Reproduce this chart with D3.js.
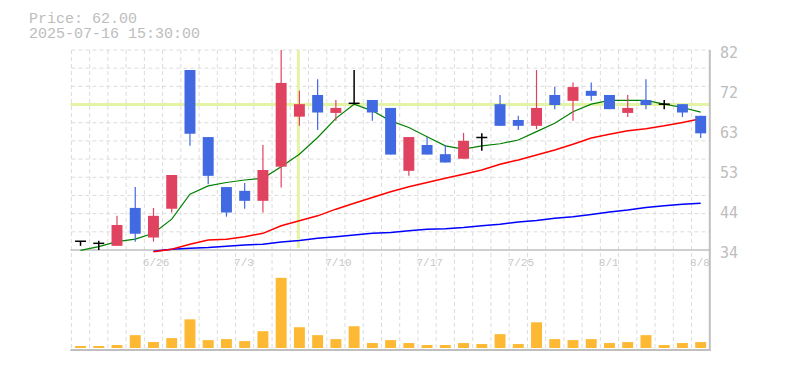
<!DOCTYPE html>
<html><head><meta charset="utf-8">
<script src="https://cdn.jsdelivr.net/npm/d3@7"></script>
<style>
html,body{margin:0;padding:0;background:#fff;}
svg{display:block;}
</style></head>
<body>
<svg id="chart" width="785" height="370"></svg>
<script>
// ---- data ----
const dates = ["6/20","6/23","6/24","6/25","6/26","6/27","6/30","7/1","7/2","7/3",
  "7/4","7/7","7/8","7/9","7/10","7/11","7/14","7/15","7/16","7/17",
  "7/18","7/22","7/23","7/24","7/25","7/28","7/29","7/30","7/31","8/1",
  "8/4","8/5","8/6","8/7","8/8"];
const opens  = [36.1,35.6,35.0,44.1,37.0,43.9,77.2,61.1,49.1,48.2,45.8,54.0,66.0,71.2,66.9,69.2,70.0,68.1,53.0,59.2,57.0,55.9,61.0,69.0,65.2,63.8,71.2,69.8,72.2,71.2,66.9,70.0,69.0,69.0,66.2];
const highs  = [36.1,36.2,42.2,49.1,44.1,52.0,77.2,61.1,49.1,50.1,59.2,82.0,72.2,75.0,70.0,77.2,70.0,68.1,61.1,61.1,59.2,62.1,62.0,71.2,66.2,77.2,73.2,74.2,74.2,71.2,71.2,75.0,70.0,69.0,66.2];
const lows   = [35.0,34.0,35.0,36.0,36.0,43.0,59.0,49.8,42.0,43.9,43.0,49.0,63.8,62.8,65.0,69.0,65.0,56.9,51.8,56.9,55.0,55.9,57.8,63.8,62.8,63.0,67.8,65.0,69.8,67.8,65.9,67.8,67.8,65.9,60.9];
const closes = [36.1,35.6,40.0,37.9,42.2,52.0,61.9,51.8,43.0,45.8,53.2,74.1,69.0,67.0,68.1,69.2,67.0,56.9,61.1,56.9,55.0,60.2,61.0,63.8,63.8,68.1,68.8,73.1,71.0,67.8,68.1,68.8,69.0,67.0,62.0];
const volumes = [200,200,300,1300,600,1000,2900,800,900,700,1700,7100,2100,1300,900,2200,500,800,500,300,300,500,400,1400,400,2600,900,800,900,500,600,1300,300,500,600];
const ma5  = [33.9,34.8,36.0,36.6,38.0,41.4,47.4,49.4,50.2,50.8,51.2,54.0,57.0,61.0,65.6,69.0,67.4,65.0,63.4,61.2,59.0,58.2,59.0,59.5,60.4,62.4,64.4,67.2,69.0,69.9,69.9,69.9,69.0,68.2,67.1];
const ma25 = [null,null,null,null,33.6,34.2,35.4,36.4,36.6,37.2,38.0,39.8,41.0,42.2,43.8,45.2,46.6,48.0,49.2,50.2,51.2,52.2,53.2,54.6,55.6,56.8,58.0,59.4,60.9,61.8,62.6,63.1,63.8,64.6,65.5];
const ma75 = [null,null,null,null,33.7,34.2,34.4,34.6,34.9,35.2,35.4,35.9,36.3,36.8,37.2,37.6,38.0,38.2,38.6,39.0,39.1,39.4,39.8,40.2,40.7,41.1,41.6,42.0,42.5,43.1,43.6,44.2,44.6,45.0,45.2];
const priceTicks = [82,72,63,53,44,34];
const xLabelIdx = [4,9,14,19,24,29,34];
const titleLines = ["Price: 62.00","2025-07-16 15:30:00"];
const crossIdx = 12, crossPrice = 68.9;

// ---- layout ----
const svg = d3.select("#chart");
const X0 = 71.4, X1 = 709.8;
const PT = 50, PB = 250, VB = 348, VT = 263;
const x = d3.scaleBand().domain(d3.range(dates.length)).range([X0, X1]).padding(0);
const step = x.step(), bw = step * 0.6;
const cx = i => x(i) + step / 2;
const y = d3.scaleLinear().domain([34, 82]).range([PB, PT]);
const yv = d3.scaleLinear().domain([0, 8600]).range([VB, VT]);

const gridC = "#dcdcdc", axisC = "#bfbfbf", textC = "#bdbdbd";
const UP = "#e0435f", DOWN = "#4169e1";

// grid
const g = svg.append("g");
g.selectAll("line.vg").data(d3.range(dates.length)).enter().append("line")
  .attr("x1", i => x(i)).attr("x2", i => x(i)).attr("y1", PT).attr("y2", VB + 1)
  .attr("stroke", gridC).attr("stroke-dasharray", "4,3").attr("stroke-width", 1);
g.selectAll("line.hg").data(d3.range(11)).enter().append("line")
  .attr("x1", X0).attr("x2", X1)
  .attr("y1", k => PT + k * (PB - PT) / 11).attr("y2", k => PT + k * (PB - PT) / 11)
  .attr("stroke", gridC).attr("stroke-dasharray", "4,3");

// crosshair
svg.append("line").attr("x1", X0 - 1).attr("x2", X1).attr("y1", y(crossPrice)).attr("y2", y(crossPrice))
  .attr("stroke", "#e4f4a6").attr("stroke-width", 3);
svg.append("line").attr("x1", cx(crossIdx) - 1).attr("x2", cx(crossIdx) - 1).attr("y1", PT).attr("y2", PB - 2)
  .attr("stroke", "#e4f4a6").attr("stroke-width", 3);

// axes lines
svg.append("line").attr("x1", X0 - 1).attr("x2", X1 + 1).attr("y1", PB).attr("y2", PB).attr("stroke", axisC).attr("stroke-width", 1.5);
svg.append("line").attr("x1", X0 - 1).attr("x2", X1 + 1).attr("y1", VB + 2).attr("y2", VB + 2).attr("stroke", axisC).attr("stroke-width", 2);
svg.append("line").attr("x1", X1).attr("x2", X1).attr("y1", PT).attr("y2", VB + 3).attr("stroke", axisC).attr("stroke-width", 2);

// MA lines
function maLine(arr, color, w) {
  const line = d3.line().defined(d => d != null).x((d, i) => cx(i)).y(d => y(d));
  svg.append("path").attr("d", line(arr)).attr("fill", "none").attr("stroke", color).attr("stroke-width", w);
}
maLine(ma75, "#0000ff", 1.5);
maLine(ma25, "#ff0000", 1.5);
maLine(ma5, "#008000", 1.2);

// candles
const idx = d3.range(dates.length);
const cg = svg.append("g");
idx.forEach(i => {
  const o = opens[i], c = closes[i], h = highs[i], l = lows[i];
  if (o === c) {
    cg.append("line").attr("x1", cx(i)).attr("x2", cx(i)).attr("y1", y(h)).attr("y2", y(l)).attr("stroke", "#000").attr("stroke-width", 1.5);
    cg.append("line").attr("x1", cx(i) - bw / 2).attr("x2", cx(i) + bw / 2).attr("y1", y(o)).attr("y2", y(o)).attr("stroke", "#000").attr("stroke-width", 1.5);
  } else {
    const col = c > o ? UP : DOWN;
    cg.append("line").attr("x1", cx(i)).attr("x2", cx(i)).attr("y1", y(h)).attr("y2", y(l)).attr("stroke", col).attr("stroke-width", 1.2);
    cg.append("rect").attr("x", cx(i) - bw / 2).attr("width", bw)
      .attr("y", y(Math.max(o, c))).attr("height", Math.max(1, y(Math.min(o, c)) - y(Math.max(o, c))))
      .attr("fill", col);
  }
});

// volume
svg.append("g").selectAll("rect").data(volumes).enter().append("rect")
  .attr("x", (d, i) => cx(i) - bw / 2).attr("width", bw)
  .attr("y", d => yv(d)).attr("height", d => VB - yv(d)).attr("fill", "#fdb933");

// price labels
svg.append("g").selectAll("text").data(priceTicks).enter().append("text")
  .attr("x", 720).attr("y", (d, k) => PT + k * (PB - PT) / 5 + 8)
  .attr("font-family", "'DejaVu Sans Mono', monospace").attr("font-size", 15)
  .attr("fill", textC).text(d => d);

// x labels
svg.append("g").selectAll("text").data(xLabelIdx).enter().append("text")
  .attr("x", i => x(i) - 1.5).attr("y", 265.5)
  .attr("font-family", "'Liberation Mono', monospace").attr("font-size", 11)
  .attr("fill", "#c8c8c8").text(i => dates[i]);

// title
svg.append("g").selectAll("text").data(titleLines).enter().append("text")
  .attr("x", 29).attr("y", (d, k) => 22.7 + k * 15)
  .attr("font-family", "'Liberation Mono', monospace").attr("font-size", 15)
  .attr("fill", textC).text(d => d);
</script>
</body></html>
